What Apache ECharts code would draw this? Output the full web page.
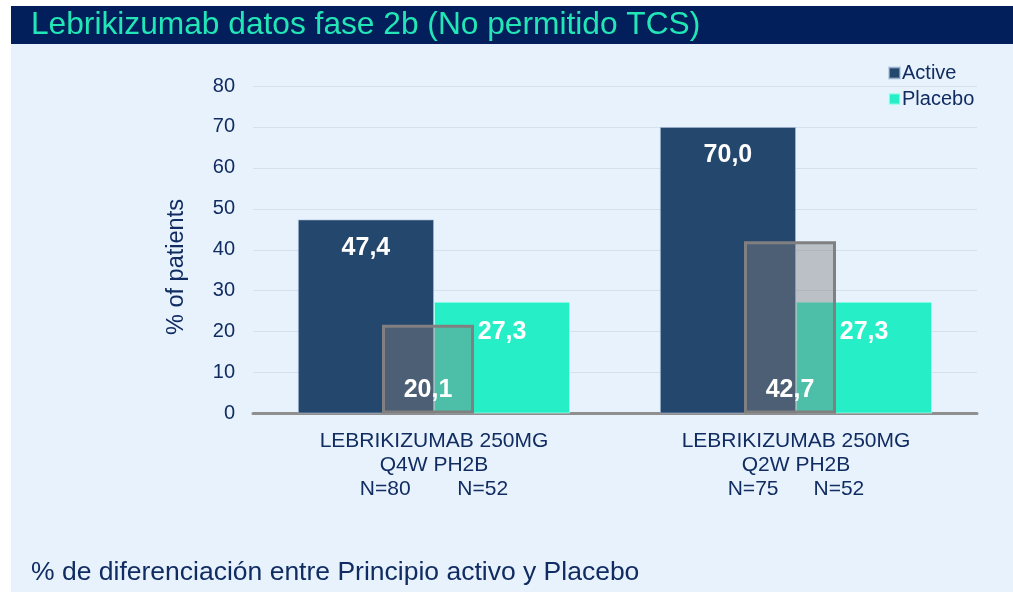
<!DOCTYPE html>
<html>
<head>
<meta charset="utf-8">
<script src="https://cdn.jsdelivr.net/npm/echarts@6/dist/echarts.min.js"></script>
<style>
html,body{margin:0;padding:0;background:#fff;}
#c{width:1013px;height:592px;}
</style>
</head>
<body>
<div id="c"></div>
<script>
const titleText = 'Lebrikizumab datos fase 2b (No permitido TCS)';
const footText = '% de diferenciación entre Principio activo y Placebo';
const yAxisTitle = '% of patients';
const categories = [
  'LEBRIKIZUMAB 250MG\nQ4W PH2B\nN=80        N=52',
  'LEBRIKIZUMAB 250MG\nQ2W PH2B\nN=75      N=52'
];
const seriesNames = ['Active', 'Placebo'];
const activeValues = [47.4, 70.0];
const placeboValues = [27.3, 27.3];
const diffValues = [21.7, 42.1];
const diffLabels = ['20,1', '42,7'];
const yTicks = [0, 10, 20, 30, 40, 50, 60, 70, 80];

const NAVY_TEXT = '#102c61';
const fmt = p => p.value.toFixed(1).replace('.', ',');

const chart = echarts.init(document.getElementById('c'), null, {renderer: 'canvas'});
const font = 'Liberation Sans, Arial, sans-serif';

chart.setOption({
  backgroundColor: '#ffffff',
  animation: false,
  textStyle: {fontFamily: font},
  graphic: [
    {type: 'rect', z: -10, silent: true, shape: {x: 11, y: 44, width: 1002, height: 548}, style: {fill: '#e8f2fd'}},
    {type: 'rect', z: -10, silent: true, shape: {x: 11, y: 6, width: 1002, height: 38}, style: {fill: '#021f5b'}},
    {type: 'text', z: 10, x: 31, y: 25, style: {text: titleText, fill: '#22e6b6', font: '31.7px ' + font, textVerticalAlign: 'middle'}},
    {type: 'text', z: 10, x: 31, y: 573, style: {text: footText, fill: NAVY_TEXT, font: '26.5px ' + font, textVerticalAlign: 'middle'}},
    {type: 'text', z: 10, x: 177, y: 267, rotation: Math.PI / 2, style: {text: yAxisTitle, fill: NAVY_TEXT, font: '23.5px ' + font, textAlign: 'center', textVerticalAlign: 'middle'}}
  ],
  legend: {
    orient: 'vertical',
    left: 883,
    top: 58,
    itemWidth: 11,
    itemHeight: 11,
    itemGap: 6,
    icon: 'rect',
    data: seriesNames,
    textStyle: {color: NAVY_TEXT, fontSize: 20, fontFamily: font, padding: [0, 0, 0, -3]}
  },
  grid: [
    {left: 253, right: 36, top: 86, bottom: 178.5, containLabel: false},
    {left: 247, right: 42, top: 86, bottom: 178.5, containLabel: false}
  ],
  xAxis: [
    {
      type: 'category', gridIndex: 0, data: categories,
      axisLine: {lineStyle: {color: '#8f8f8f', width: 3}},
      axisTick: {show: false},
      axisLabel: {color: NAVY_TEXT, fontSize: 21, lineHeight: 24, margin: 16, fontFamily: font, interval: 0}
    },
    {
      type: 'category', gridIndex: 1, data: categories, show: false
    }
  ],
  yAxis: [
    {
      type: 'value', gridIndex: 0, min: 0, max: 80, interval: 10,
      axisLine: {show: false}, axisTick: {show: false},
      axisLabel: {color: NAVY_TEXT, fontSize: 20, margin: 18, fontFamily: font,
        formatter: v => yTicks.includes(v) ? String(v) : ''},
      splitLine: {lineStyle: {color: '#d5e0ed', width: 1}}
    },
    {
      type: 'value', gridIndex: 1, min: 0, max: 80, interval: 10, show: false,
      splitLine: {show: false}
    }
  ],
  series: [
    {
      name: seriesNames[0], type: 'bar', xAxisIndex: 0, yAxisIndex: 0,
      data: activeValues, barWidth: '37.6%', barGap: '0%',
      itemStyle: {color: '#24476e', borderColor: 'rgba(170,190,215,0.6)', borderWidth: 1},
      label: {show: true, position: 'insideTop', distance: 16, color: '#ffffff', fontSize: 25, fontWeight: 'bold', fontFamily: font, formatter: fmt}
    },
    {
      name: seriesNames[1], type: 'bar', xAxisIndex: 0, yAxisIndex: 0,
      data: placeboValues, barWidth: '37.6%', barGap: '0%',
      itemStyle: {color: '#26efc8', borderColor: 'rgba(200,255,245,0.6)', borderWidth: 1},
      label: {show: true, position: 'insideTop', distance: 18, color: '#ffffff', fontSize: 25, fontWeight: 'bold', fontFamily: font, formatter: fmt}
    },
    {
      name: 'Diferencia', type: 'bar', xAxisIndex: 1, yAxisIndex: 1,
      data: diffValues, barWidth: 92,
      itemStyle: {color: 'rgba(127,127,127,0.44)', borderColor: '#808080', borderWidth: 3},
      label: {show: true, position: 'insideBottom', distance: 11, color: '#ffffff', fontSize: 25, fontWeight: 'bold', fontFamily: font,
        formatter: p => diffLabels[p.dataIndex]}
    }
  ]
});
</script>
</body>
</html>
